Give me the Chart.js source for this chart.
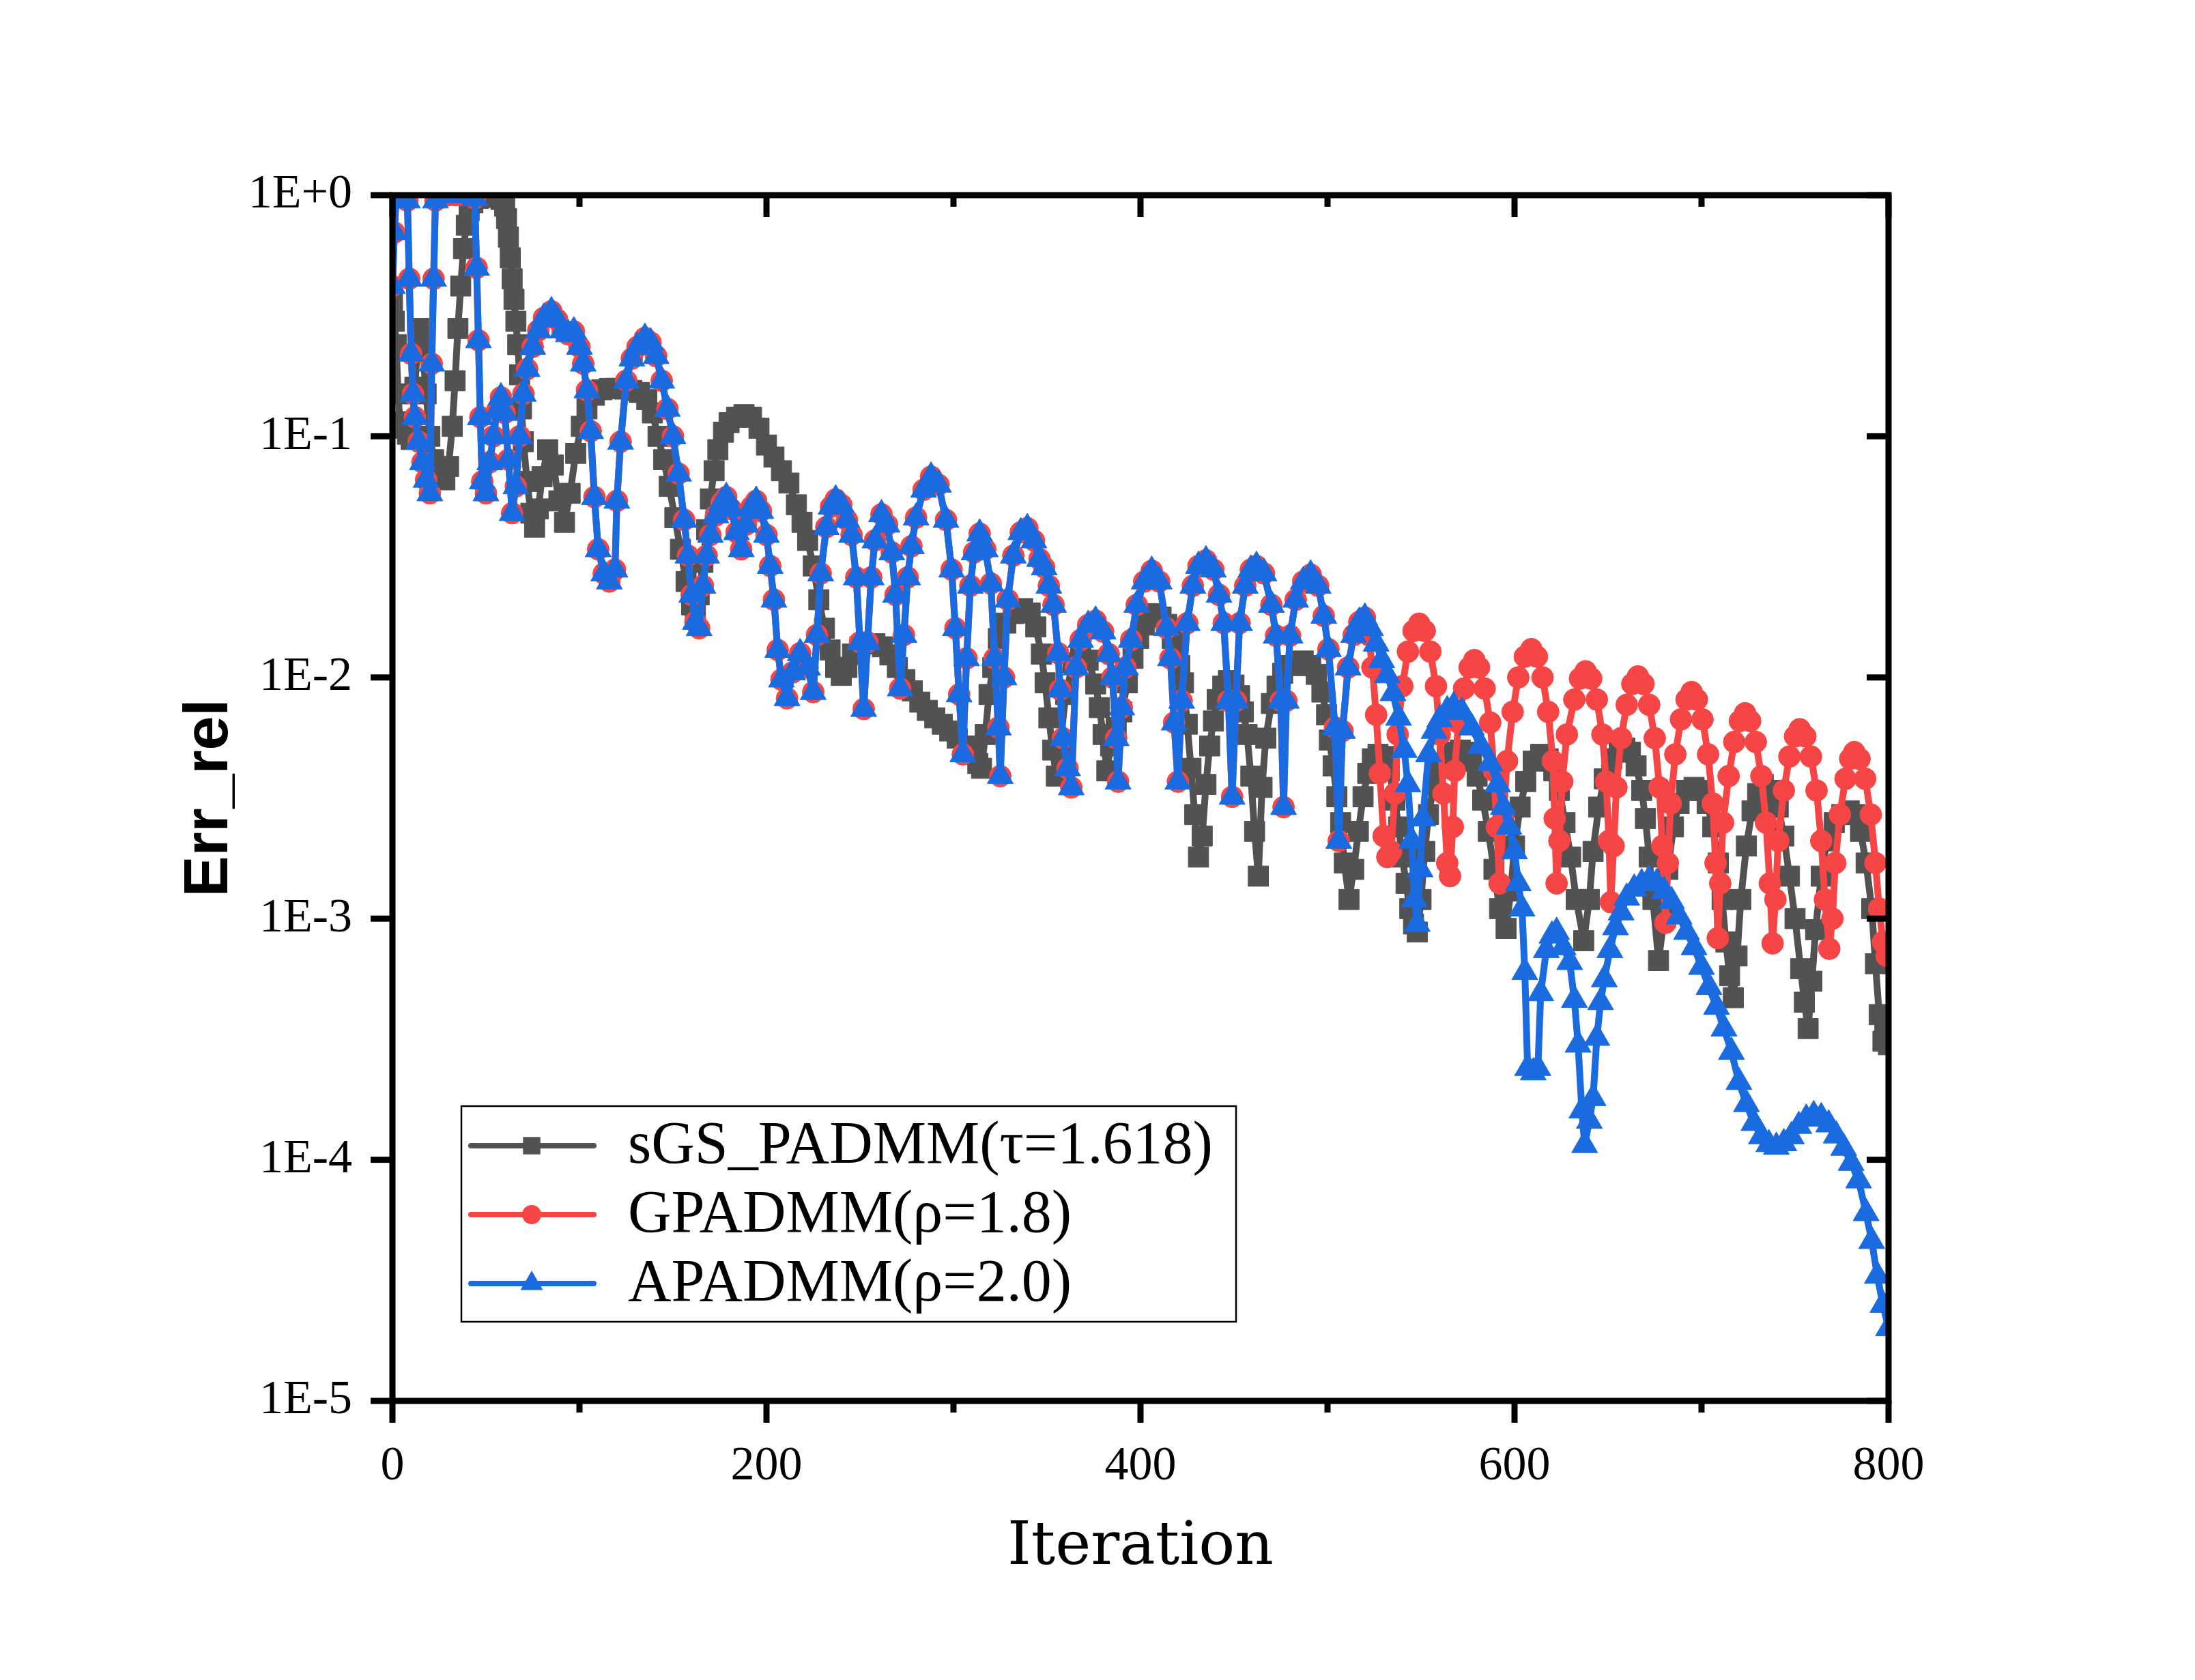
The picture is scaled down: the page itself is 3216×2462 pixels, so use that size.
<!DOCTYPE html>
<html>
<head>
<meta charset="utf-8">
<script src="https://cdn.jsdelivr.net/npm/chart.js"></script>
<style>
  html, body { margin: 0; padding: 0; background: #fff; }
  #wrap { width: 3216px; height: 2462px; }
</style>
</head>
<body>
<div id="wrap"><canvas id="err-chart"></canvas></div>
<script>
// axis ticks
const xTickValues = [0, 200, 400, 600, 800];
const xTickLabels = ['0', '200', '400', '600', '800'];
const xMinorTicks = [100, 300, 500, 700];
const yTickValues = [1e-5, 1e-4, 1e-3, 1e-2, 1e-1, 1];
const yTickLabels = ['1E-5', '1E-4', '1E-3', '1E-2', '1E-1', '1E+0'];

const seriesNames = ['sGS_PADMM(τ=1.618)', 'GPADMM(ρ=1.8)', 'APADMM(ρ=2.0)'];

// sGS_PADMM
const itGS = [0, 1, 2, 3, 4, 6, 8, 10, 12, 14, 16, 18, 20, 22, 24, 26, 28, 30, 32, 33.5, 35, 36.5, 38, 39.5, 41, 43, 46, 50, 54, 58, 60, 61, 62, 63, 64, 65, 66, 67, 68, 69, 70, 72, 74, 76, 78, 80, 83, 86, 89, 92, 95, 98, 101, 104, 108, 112, 116, 120, 124, 128, 132, 136, 139, 142, 145, 148, 151, 154, 157, 160, 162, 164, 166, 168, 170, 172, 174, 177, 180, 184, 188, 192, 196, 200, 204, 208, 212, 216, 219, 222, 225, 228, 231, 234, 237, 240, 243, 246, 250, 254, 258, 262, 266, 270, 274, 278, 282, 286, 290, 294, 298, 302, 306, 310, 313, 315, 317, 319, 321, 324, 328, 332, 337, 341, 344, 347, 349, 351, 353, 355, 357, 360, 364, 368, 372, 376, 378, 380, 382, 384, 387, 390, 393, 396, 399, 402, 405, 408, 411, 414, 417, 419, 421, 423, 425, 427, 429, 431, 433, 435, 437, 439, 441, 444, 447, 450, 453, 455, 457, 459, 461, 463, 465, 467, 470, 473, 476, 480, 484, 487, 491, 494, 497, 499.5, 501, 503, 505, 507, 509, 511.5, 514, 516.5, 519, 521.5, 524, 527, 530, 533, 536, 538, 540, 542, 544, 546, 548, 550, 552, 554, 557, 560, 564, 568, 571, 574, 577, 580, 583, 586, 589, 592, 595.5, 598, 600, 603, 606, 610, 614, 618, 621, 624, 627, 630, 633, 637, 640, 642, 645, 648, 652, 656, 659, 662, 665, 668, 670, 672, 674, 677, 680, 682, 685, 688, 692, 696, 700, 703, 706, 709, 711, 713, 715, 717, 719, 721, 724, 727, 730, 733, 737, 741, 744, 747, 750, 753, 755, 757, 759, 761, 764, 767, 771, 775, 779, 782, 785, 788, 791, 793, 795, 797, 798, 800];
const errGS = [0.36, 0.3, 0.24, 0.15, 0.115, 0.108, 0.102, 0.097, 0.16, 0.28, 0.24, 0.15, 0.1, 0.08, 0.072, 0.068, 0.066, 0.075, 0.11, 0.17, 0.28, 0.42, 0.6, 0.75, 0.86, 0.93, 0.97, 0.98, 0.98, 0.96, 0.9, 0.8, 0.67, 0.55, 0.45, 0.37, 0.3, 0.24, 0.18, 0.13, 0.095, 0.065, 0.048, 0.042, 0.05, 0.068, 0.088, 0.076, 0.054, 0.044, 0.058, 0.085, 0.11, 0.13, 0.148, 0.156, 0.158, 0.158, 0.157, 0.155, 0.152, 0.142, 0.125, 0.1, 0.08, 0.062, 0.046, 0.034, 0.025, 0.02, 0.019, 0.022, 0.03, 0.041, 0.055, 0.072, 0.088, 0.104, 0.114, 0.12, 0.123, 0.12, 0.108, 0.092, 0.082, 0.072, 0.064, 0.052, 0.044, 0.037, 0.029, 0.021, 0.016, 0.013, 0.011, 0.0102, 0.011, 0.0125, 0.0134, 0.0138, 0.0138, 0.0134, 0.0124, 0.011, 0.0098, 0.0088, 0.0079, 0.0073, 0.0068, 0.0064, 0.006, 0.0056, 0.0052, 0.0048, 0.0044, 0.0042, 0.0058, 0.0085, 0.011, 0.0145, 0.0168, 0.0184, 0.0193, 0.0185, 0.0162, 0.0125, 0.0095, 0.0068, 0.005, 0.0039, 0.0052, 0.0085, 0.0115, 0.0126, 0.0118, 0.0094, 0.0075, 0.0058, 0.0041, 0.0052, 0.0062, 0.0072, 0.0095, 0.012, 0.0145, 0.0165, 0.018, 0.0184, 0.0178, 0.0166, 0.0145, 0.0131, 0.0112, 0.0095, 0.0064, 0.0042, 0.0027, 0.0018, 0.0022, 0.0036, 0.0052, 0.0066, 0.0081, 0.0092, 0.0097, 0.0093, 0.0084, 0.0072, 0.0058, 0.0039, 0.0023, 0.0015, 0.0035, 0.0056, 0.0078, 0.0092, 0.0104, 0.0112, 0.0116, 0.0117, 0.0112, 0.0103, 0.0087, 0.007, 0.0055, 0.0043, 0.0032, 0.0025, 0.0017, 0.0012, 0.0016, 0.0023, 0.0032, 0.004, 0.0046, 0.0048, 0.0047, 0.0041, 0.0031, 0.0024, 0.0018, 0.0014, 0.0011, 0.00095, 0.00088, 0.0012, 0.0019, 0.0027, 0.0036, 0.0042, 0.0047, 0.0049, 0.005, 0.0049, 0.0045, 0.0039, 0.0031, 0.0023, 0.0016, 0.0011, 0.00091, 0.0013, 0.002, 0.0029, 0.0037, 0.0045, 0.0048, 0.0046, 0.0041, 0.0034, 0.0025, 0.0018, 0.0012, 0.00081, 0.0012, 0.0019, 0.0029, 0.0038, 0.0046, 0.005, 0.0051, 0.0049, 0.0043, 0.0034, 0.0026, 0.0018, 0.0012, 0.00067, 0.001, 0.0016, 0.0024, 0.003, 0.0034, 0.0035, 0.0034, 0.003, 0.0024, 0.0017, 0.0012, 0.0008, 0.00058, 0.00047, 0.0007, 0.0012, 0.002, 0.0028, 0.0033, 0.0036, 0.0034, 0.0029, 0.0022, 0.0015, 0.001, 0.00062, 0.00045, 0.00035, 0.00055, 0.0009, 0.0015, 0.0021, 0.0025, 0.0027, 0.0028, 0.0027, 0.0023, 0.0017, 0.0011, 0.00065, 0.0004, 0.00031, 0.00033, 0.0003];

// GPADMM and APADMM coincide up to iteration 520
const itShared = [0, 1, 2, 4, 6, 8, 9, 10, 11, 12, 14, 16, 18, 20, 21, 22, 23, 26, 30, 34, 38, 42, 44, 45, 46, 47, 48, 50, 52, 54, 56, 58, 60, 62, 64, 66, 68, 70, 72, 75, 78, 81, 85, 88, 91, 94, 97, 100, 102, 104, 106, 108, 110, 113, 116, 119, 120, 122, 125, 128, 131, 135, 138, 141, 144, 147, 150, 153, 156, 158, 160, 162, 164, 166, 168, 170, 173, 176, 178.5, 181, 184, 186.5, 189, 192, 194.5, 197, 200, 202, 204, 206, 208, 211, 214, 218, 222, 225, 227, 229, 232, 234.5, 237, 240, 243, 245.5, 248, 250, 252, 254, 256, 258, 261.5, 264.5, 267, 269, 271.5, 273.5, 275.5, 277.5, 280, 284, 288, 292, 296, 299, 301, 303, 305, 307, 309, 311, 314, 317, 320, 322, 324, 325, 327, 329, 332, 336, 339.5, 343, 346, 348.5, 351, 353.5, 356, 357, 358.5, 361, 363, 365.5, 368, 372, 376, 380, 383, 385, 387, 388, 390, 392, 395, 398, 402, 406, 410, 414, 416, 418, 420, 422, 425, 428, 431, 435, 439, 442, 444.5, 447, 449, 451, 453, 456, 459, 462, 466, 470, 472.5, 475, 476.5, 478, 480, 483, 487, 491, 495, 498, 500.5, 504, 506, 508, 511, 514, 517, 520];
const errShared = [0.42, 0.7, 1.0, 0.98, 0.97, 0.95, 0.45, 0.22, 0.15, 0.12, 0.095, 0.078, 0.066, 0.058, 0.2, 0.45, 0.95, 1.0, 1.0, 1.0, 1.0, 1.0, 0.97, 0.5, 0.25, 0.12, 0.065, 0.058, 0.078, 0.1, 0.128, 0.145, 0.125, 0.08, 0.048, 0.062, 0.1, 0.15, 0.19, 0.235, 0.275, 0.31, 0.33, 0.305, 0.275, 0.265, 0.272, 0.235, 0.2, 0.155, 0.105, 0.056, 0.034, 0.027, 0.025, 0.028, 0.054, 0.095, 0.17, 0.21, 0.235, 0.256, 0.245, 0.215, 0.17, 0.13, 0.1, 0.07, 0.045, 0.032, 0.022, 0.017, 0.016, 0.024, 0.032, 0.039, 0.047, 0.053, 0.056, 0.05, 0.04, 0.034, 0.043, 0.051, 0.054, 0.049, 0.039, 0.029, 0.021, 0.013, 0.0098, 0.0082, 0.0105, 0.0126, 0.011, 0.0087, 0.015, 0.027, 0.042, 0.051, 0.0547, 0.052, 0.045, 0.039, 0.026, 0.014, 0.0074, 0.014, 0.026, 0.037, 0.0475, 0.043, 0.033, 0.022, 0.009, 0.015, 0.026, 0.035, 0.046, 0.06, 0.068, 0.063, 0.045, 0.028, 0.016, 0.0085, 0.0048, 0.012, 0.024, 0.033, 0.0395, 0.034, 0.0245, 0.012, 0.0062, 0.0039, 0.01, 0.021, 0.032, 0.04, 0.0416, 0.037, 0.031, 0.0286, 0.024, 0.02, 0.0126, 0.0089, 0.0056, 0.0042, 0.0035, 0.011, 0.0143, 0.0165, 0.0172, 0.0155, 0.0125, 0.01, 0.0056, 0.0037, 0.0075, 0.011, 0.0143, 0.02, 0.025, 0.0277, 0.025, 0.016, 0.012, 0.0065, 0.0037, 0.008, 0.0168, 0.024, 0.029, 0.0306, 0.028, 0.022, 0.0168, 0.008, 0.0032, 0.008, 0.0168, 0.024, 0.028, 0.029, 0.027, 0.02, 0.0149, 0.008, 0.0029, 0.008, 0.0149, 0.021, 0.025, 0.0267, 0.024, 0.018, 0.0131, 0.0062, 0.0021, 0.006, 0.011, 0.015, 0.017, 0.0177];

// GPADMM after 520
const itGP = [522, 524, 526, 528, 530, 532, 534, 536, 537.5, 540, 543, 546, 549, 552, 555, 558, 560, 562, 564, 565.5, 567, 568, 570, 573, 576, 578.5, 581, 584, 587, 589, 590.5, 592, 594, 596, 599, 602, 605.5, 609, 612, 615, 618, 620.5, 621.5, 622.5, 624, 625.5, 628, 632, 635, 638, 641, 644, 647, 649, 650.5, 651.5, 653, 654.5, 657, 660, 663, 666, 669, 672, 675, 677.5, 679, 680.7, 682, 683.5, 686, 689, 692, 694.7, 697.5, 700.5, 703.5, 706, 707.5, 708.7, 710, 711.5, 714.5, 717.5, 720.5, 723.3, 726, 729, 732, 734.5, 736.5, 738, 739.5, 741, 744, 747, 750, 752.5, 755.5, 758.5, 761.5, 764, 766, 768.3, 770, 771.5, 774, 777, 779.5, 781.7, 784.5, 787.5, 790.5, 793, 795, 797, 799, 800];
const errGP = [0.015, 0.011, 0.007, 0.004, 0.0022, 0.0018, 0.0019, 0.0033, 0.0058, 0.0092, 0.0128, 0.0156, 0.0167, 0.0156, 0.0128, 0.0092, 0.0058, 0.0033, 0.0017, 0.0015, 0.0024, 0.0041, 0.0065, 0.009, 0.011, 0.0118, 0.011, 0.009, 0.0065, 0.0041, 0.0024, 0.0014, 0.0026, 0.0045, 0.0072, 0.01, 0.0122, 0.0131, 0.0122, 0.01, 0.0072, 0.0045, 0.0026, 0.0014, 0.0021, 0.0037, 0.0058, 0.0081, 0.0099, 0.0106, 0.0099, 0.0081, 0.0058, 0.0037, 0.0021, 0.00117, 0.002, 0.0035, 0.0056, 0.0077, 0.0094, 0.0101, 0.0094, 0.0077, 0.0056, 0.0035, 0.002, 0.00096, 0.0017, 0.003, 0.0048, 0.0067, 0.0081, 0.0087, 0.0081, 0.0067, 0.0048, 0.003, 0.0017, 0.00083, 0.0014, 0.0025, 0.0039, 0.0054, 0.0066, 0.0071, 0.0066, 0.0054, 0.0039, 0.0025, 0.0014, 0.00079, 0.0012, 0.0021, 0.0034, 0.0047, 0.0057, 0.0061, 0.0057, 0.0047, 0.0034, 0.0021, 0.0012, 0.00075, 0.001, 0.0017, 0.0027, 0.0038, 0.0046, 0.0049, 0.0046, 0.0038, 0.0027, 0.0017, 0.0011, 0.0008, 0.0007, 0.0007];

// APADMM after 520
const itAP = [523, 526, 529, 532, 535, 538, 541, 543, 545, 546.5, 548, 549.5, 551, 554, 557, 560, 564, 567.5, 572, 577, 582, 587, 591, 594, 597, 600, 602, 604, 605.5, 607, 610, 612.5, 614, 617, 620, 622.5, 626, 629.5, 632, 634, 636, 637.5, 640, 642, 644, 646, 648, 651, 654, 657, 660, 664, 668, 672, 676, 680, 684, 688, 692, 696, 700, 704, 708, 712, 716, 720, 724, 728, 732, 736, 740, 744, 748, 752, 756, 760, 764, 768, 772, 776, 780, 784, 788, 791, 794, 797, 800];
const errAP = [0.016, 0.0138, 0.0118, 0.0102, 0.0086, 0.0068, 0.005, 0.0036, 0.0021, 0.0012, 0.00095, 0.0016, 0.0026, 0.0048, 0.006, 0.0067, 0.0073, 0.0076, 0.0072, 0.0062, 0.0052, 0.0044, 0.0036, 0.0029, 0.0024, 0.0019, 0.0014, 0.0011, 0.0006, 0.00024, 0.00023, 0.00024, 0.00049, 0.00074, 0.00085, 0.00088, 0.00076, 0.00066, 0.00046, 0.0003, 0.00016, 0.000115, 0.000145, 0.00018, 0.00032, 0.00045, 0.00056, 0.00074, 0.00092, 0.00106, 0.00122, 0.00133, 0.0014, 0.00145, 0.0014, 0.0013, 0.00118, 0.00102, 0.00088, 0.00076, 0.00063, 0.00052, 0.00043, 0.00035, 0.00028, 0.00021, 0.00017, 0.000142, 0.000125, 0.000116, 0.000113, 0.000117, 0.000125, 0.000138, 0.000148, 0.000153, 0.00015, 0.00014, 0.000126, 0.000112, 0.000097, 0.000082, 0.00006, 0.000046, 0.000033, 0.000025, 0.00002];

const colors = ['#525252', '#f64545', '#1a6bdf'];
const styles = ['rect', 'circle', 'triangle'];
const radii = [21, 16, 22];
const legendRadii = [18, 14, 19];

function toPoints(xs, ys) {
    return xs.map((x, i) => ({ x: x, y: ys[i] }));
}

// 테두리와 눈금
const frameTicks = {
    id: 'frameTicks',
    afterDraw(chart) {
        const { ctx, chartArea: a, scales } = chart;
        ctx.save();
        ctx.strokeStyle = '#000';
        ctx.lineWidth = 9;
        ctx.lineCap = 'butt';
        ctx.strokeRect(a.left, a.top, a.right - a.left, a.bottom - a.top);
        const line = (x1, y1, x2, y2) => {
            ctx.beginPath();
            ctx.moveTo(x1, y1);
            ctx.lineTo(x2, y2);
            ctx.stroke();
        };
        xTickValues.forEach(v => {
            const px = scales.x.getPixelForValue(v);
            line(px, a.bottom, px, a.bottom + 32);
            line(px, a.top, px, a.top + 32);
        });
        xMinorTicks.forEach(v => {
            const px = scales.x.getPixelForValue(v);
            line(px, a.bottom, px, a.bottom + 17);
            line(px, a.top, px, a.top + 17);
        });
        yTickValues.forEach(v => {
            const py = scales.y.getPixelForValue(v);
            line(a.left - 32, py, a.left, py);
            line(a.right - 32, py, a.right, py);
        });
        ctx.restore();
    }
};

// 범례 상자
const boxLegend = {
    id: 'boxLegend',
    afterDraw(chart) {
        const ctx = chart.ctx;
        const box = { x: 676, y: 1621, w: 1135, h: 316 };
        const rows = [1679, 1780, 1881];
        ctx.save();
        ctx.fillStyle = '#fff';
        ctx.fillRect(box.x, box.y, box.w, box.h);
        ctx.strokeStyle = '#000';
        ctx.lineWidth = 2.5;
        ctx.strokeRect(box.x, box.y, box.w, box.h);
        chart.data.datasets.forEach((ds, i) => {
            const y = rows[i];
            ctx.strokeStyle = ds.borderColor;
            ctx.lineWidth = 8;
            ctx.lineCap = 'round';
            ctx.beginPath();
            ctx.moveTo(690, y);
            ctx.lineTo(870, y);
            ctx.stroke();
            ctx.fillStyle = ds.borderColor;
            Chart.helpers.drawPoint(ctx, {
                pointStyle: ds.pointStyle,
                radius: legendRadii[i],
                rotation: 0,
                borderWidth: 0
            }, 779, y);
            ctx.fillStyle = '#000';
            ctx.font = "88px 'Liberation Serif', serif";
            ctx.textBaseline = 'middle';
            ctx.textAlign = 'left';
            ctx.fillText(ds.label, 920, y + 2);
        });
        ctx.restore();
    }
};

const datasets = [
    { data: toPoints(itGS, errGS), order: 3 },
    { data: toPoints(itShared.concat(itGP), errShared.concat(errGP)), order: 2 },
    { data: toPoints(itShared.concat(itAP), errShared.concat(errAP)), order: 1 }
].map((d, i) => Object.assign(d, {
    label: seriesNames[i],
    borderColor: colors[i],
    backgroundColor: colors[i],
    pointBackgroundColor: colors[i],
    pointBorderColor: colors[i],
    pointBorderWidth: 1,
    pointStyle: styles[i],
    pointRadius: radii[i],
    borderWidth: 10,
    borderJoinStyle: 'round',
    tension: 0,
    clip: 0
}));

new Chart(document.getElementById('err-chart'), {
    type: 'line',
    data: { datasets: datasets },
    options: {
        responsive: true,
        maintainAspectRatio: false,
        devicePixelRatio: 1,
        animation: false,
        events: [],
        layout: { padding: { top: 286, right: 449, left: 0, bottom: 0 } },
        plugins: { legend: { display: false }, tooltip: { enabled: false } },
        scales: {
            x: {
                type: 'linear',
                min: 0,
                max: 800,
                grid: { display: false, drawTicks: false },
                border: { display: false },
                afterBuildTicks: (scale) => { scale.ticks = xTickValues.map(v => ({ value: v })); },
                afterFit: (scale) => { scale.height = 409; },
                ticks: {
                    padding: 55,
                    color: '#000',
                    maxRotation: 0,
                    font: { family: "'Liberation Serif', serif", size: 70 },
                    callback: (v, i) => xTickLabels[i]
                },
                title: {
                    display: true,
                    text: 'Iteration',
                    color: '#000',
                    font: { family: "'DejaVu Serif', serif", size: 88 },
                    padding: { top: 0, bottom: 140 }
                }
            },
            y: {
                type: 'logarithmic',
                min: 1e-5,
                max: 1,
                grid: { display: false, drawTicks: false },
                border: { display: false },
                afterBuildTicks: (scale) => { scale.ticks = yTickValues.map(v => ({ value: v })); },
                afterFit: (scale) => { scale.width = 575; },
                ticks: {
                    padding: 59,
                    color: '#000',
                    font: { family: "'Liberation Serif', serif", size: 70 },
                    callback: (v, i) => yTickLabels[i]
                },
                title: {
                    display: true,
                    text: 'Err_rel',
                    color: '#000',
                    font: { family: "'Liberation Sans', sans-serif", size: 90, weight: 'bold' },
                    padding: { top: 254, bottom: 0 }
                }
            }
        }
    },
    plugins: [frameTicks, boxLegend]
});
</script>
</body>
</html>
